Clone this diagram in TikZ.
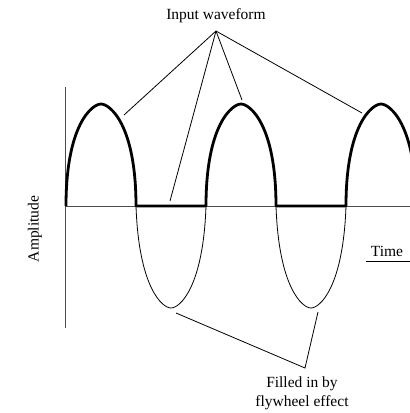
\documentclass[tikz,border=0pt]{standalone}
\usepackage{fontspec}
\setmainfont{Liberation Serif}
\begin{document}
\begin{tikzpicture}[x=1pt,y=-1pt,
  lbl/.style={font=\fontsize{15.5}{19}\selectfont, inner sep=0pt, align=center},
  axisline/.style={draw=black!70, line width=1pt},
  wave/.style={line width=2.8pt, line cap=butt, line join=round},
  filled/.style={line width=0.8pt},
  leader/.style={line width=0.8pt}]
\useasboundingbox (0,0) rectangle (410,413);
\begin{scope}
\clip (0,0) rectangle (410,413);
% axes
\draw[axisline] (65,87) -- (65,328);
\draw[axisline] (65,206) -- (410,206);
% filled-in negative lobes
\draw[filled] (136,206) .. controls (138.8,287.6) and (162.25,308) .. (171,308)
  .. controls (179.75,308) and (203.2,287.6) .. (206,206);
\draw[filled] (276,206) .. controls (278.8,287.6) and (302.25,308) .. (311,308)
  .. controls (319.75,308) and (343.2,287.6) .. (346,206);
% input waveform (rectified)
\draw[wave] (66,206) .. controls (66,124.4) and (92.25,104) .. (101,104)
  .. controls (109.75,104) and (136,124.4) .. (136,206)
  -- (206,206) .. controls (206,124.4) and (232.25,104) .. (241,104)
  .. controls (249.75,104) and (276,124.4) .. (276,206)
  -- (346,206) .. controls (346,124.4) and (372.25,104) .. (381,104)
  .. controls (389.75,104) and (416,124.4) .. (416,206);
\end{scope}
% labels
\node[lbl] (input) at (216,16) {Input waveform};
\node[lbl] (filledtxt) at (302,393) {Filled in by\\flywheel effect};
\node[lbl, anchor=south] (time) at (387,257) {Time};
\node[lbl, rotate=90] (amp) at (35,229) {Amplitude};
% leader points
\coordinate (top) at (216,31);
\coordinate (t1) at (124,115);
\coordinate (t2) at (170,201);
\coordinate (t3) at (242,100);
\coordinate (t4) at (362,113);
\coordinate (bot) at (305,368);
\coordinate (b1) at (176,313);
\coordinate (b2) at (318,312);
\coordinate (tl) at (366,261);
\coordinate (tr) at (410,261);
\draw[leader] (top) -- (t1);
\draw[leader] (top) -- (t2);
\draw[leader] (top) -- (t3);
\draw[leader] (top) -- (t4);
\draw[leader] (b1) -- (bot) -- (b2);
\draw[leader] (tl) -- (tr);
\end{tikzpicture}
\end{document}
